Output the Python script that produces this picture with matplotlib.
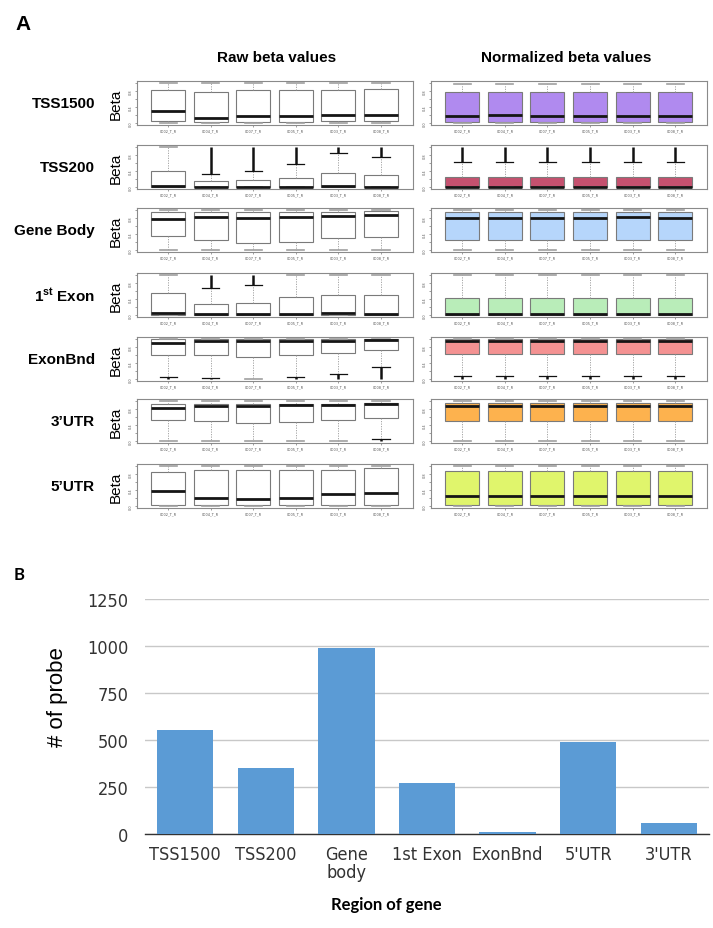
import numpy as np
import matplotlib
matplotlib.use("Agg")
import matplotlib.pyplot as plt

plt.rcParams['mathtext.fontset'] = 'custom'
plt.rcParams['mathtext.rm'] = 'Liberation Sans:bold'
plt.rcParams['mathtext.it'] = 'Liberation Sans:bold'

# ---- panel A data (box plot statistics) ----
regions = ["TSS1500", "TSS200", "Gene Body", "1$^{st}$ Exon", "ExonBnd", "3\u2019UTR", "5\u2019UTR"]
samples = ["0002_T_R", "0004_T_R", "0007_T_R", "0005_T_R", "0003_T_R", "0008_T_R"]
beta_min, beta_max = 0.0, 1.0

raw_q3 = [[0.81, 0.77, 0.82, 0.82, 0.81, 0.85],
          [0.41, 0.15, 0.18, 0.23, 0.36, 0.31],
          [0.93, 0.95, 0.95, 0.95, 0.95, 0.97],
          [0.56, 0.27, 0.31, 0.44, 0.50, 0.50],
          [0.98, 0.98, 0.98, 0.98, 0.98, 0.99],
          [0.92, 0.92, 0.92, 0.92, 0.92, 0.94],
          [0.84, 0.89, 0.89, 0.89, 0.89, 0.93]]
raw_med = [[0.31, 0.14, 0.17, 0.17, 0.21, 0.21],
           [0.03, 0.02, 0.02, 0.02, 0.03, 0.02],
           [0.78, 0.81, 0.80, 0.83, 0.84, 0.87],
           [0.05, 0.04, 0.04, 0.045, 0.05, 0.045],
           [0.89, 0.95, 0.95, 0.94, 0.94, 0.97],
           [0.83, 0.88, 0.87, 0.885, 0.885, 0.91],
           [0.38, 0.20, 0.18, 0.21, 0.31, 0.34]]
raw_q1 = [[0.05, 0.04, 0.04, 0.04, 0.05, 0.05],
          [0.01, 0.01, 0.01, 0.01, 0.01, 0.01],
          [0.35, 0.26, 0.18, 0.21, 0.31, 0.34],
          [0.01, 0.01, 0.01, 0.01, 0.01, 0.01],
          [0.60, 0.60, 0.55, 0.60, 0.65, 0.71],
          [0.52, 0.49, 0.44, 0.48, 0.52, 0.58],
          [0.03, 0.03, 0.03, 0.03, 0.03, 0.03]]
raw_hi = [[0.99, 0.99, 0.99, 0.99, 0.99, 0.99],
          [1.00, 0.34, 0.39, 0.58, 0.85, 0.75],
          [1.00, 1.00, 1.00, 1.00, 1.00, 1.00],
          [1.00, 0.68, 0.75, 1.00, 1.00, 1.00],
          [1.00, 1.00, 1.00, 1.00, 1.00, 1.00],
          [0.99, 0.99, 0.99, 0.99, 0.99, 0.99],
          [0.99, 0.99, 0.99, 0.99, 0.99, 0.99]]
raw_lo = [[0.00, 0.00, 0.00, 0.00, 0.00, 0.00],
          [0.00, 0.00, 0.00, 0.00, 0.00, 0.00],
          [0.00, 0.00, 0.00, 0.00, 0.00, 0.00],
          [0.00, 0.00, 0.00, 0.00, 0.00, 0.00],
          [0.07, 0.03, 0.00, 0.07, 0.13, 0.30],
          [0.00, 0.00, 0.00, 0.00, 0.00, 0.05],
          [0.00, 0.00, 0.00, 0.00, 0.00, 0.00]]

norm_q3 = [[0.78] * 6, [0.25] * 6, [0.95] * 6, [0.42] * 6, [0.99] * 6, [0.93] * 6, [0.88] * 6]
norm_med = [[0.18, 0.20, 0.18, 0.18, 0.18, 0.18],
            [0.01] * 6,
            [0.80, 0.80, 0.80, 0.80, 0.81, 0.80],
            [0.04] * 6,
            [0.94, 0.95, 0.93, 0.95, 0.94, 0.94],
            [0.87] * 6,
            [0.26, 0.26, 0.245, 0.26, 0.26, 0.25]]
norm_q1 = [[0.03] * 6, [0.005] * 6, [0.26] * 6, [0.005] * 6, [0.62] * 6, [0.49] * 6, [0.03] * 6]
norm_hi = [[0.97] * 6, [0.63] * 6, [1.0] * 6, [0.99] * 6, [1.0] * 6, [1.0] * 6, [0.99] * 6]
norm_lo = [[0.0] * 6, [0.0] * 6, [0.0] * 6, [0.0] * 6, [0.09] * 6, [0.0] * 6, [0.0] * 6]
norm_colors = ["#B08AEF", "#C5516F", "#B6D6FB", "#B9EDB9", "#F49292", "#FDB24E", "#E0F56C"]

# ---- panel B data ----
bar_cats = ["TSS1500", "TSS200", "Gene\nbody", "1st Exon", "ExonBnd", "5'UTR", "3'UTR"]
bar_vals = [553, 351, 992, 272, 8, 489, 60]

W, H = 713, 929
fig = plt.figure(figsize=(W / 100, H / 100), dpi=100)

row_top = [82, 146, 209, 274, 338, 400, 465]
row_h = 44


def draw_boxes(ax, q1, med, q3, lo, hi, color):
    stats = []
    for i in range(6):
        stats.append(dict(med=med[i], q1=q1[i], q3=q3[i], whislo=lo[i], whishi=hi[i], fliers=[]))
    res = ax.bxp(stats, positions=range(1, 7), widths=0.8, capwidths=0.4,
                 patch_artist=True, showfliers=False,
                 boxprops=dict(facecolor=color, edgecolor="#7a7a7a", linewidth=0.8),
                 medianprops=dict(color="#151515", linewidth=2.0),
                 whiskerprops=dict(color="#9a9a9a", linestyle=(0, (1.5, 1.5)), linewidth=0.6),
                 capprops=dict(color="#a0a0a0", linewidth=1.2))
    # outliers packed between whisker end and data extreme
    for i in range(6):
        if hi[i] < 0.96:
            ax.vlines(i + 1, hi[i], beta_max, color="#111111", linewidth=1.8)
            res['caps'][2 * i + 1].set_color("#111111")
            res['caps'][2 * i + 1].set_linewidth(0.9)
        if lo[i] > 0.02:
            ax.vlines(i + 1, beta_min, lo[i], color="#111111", linewidth=1.8)
            res['caps'][2 * i].set_color("#111111")
            res['caps'][2 * i].set_linewidth(0.9)
    ax.set_xlim(0.26, 6.74)
    ax.set_ylim(-0.04, 1.04)
    ax.set_yticks([0, 0.2, 0.4, 0.6, 0.8, 1.0])
    ax.set_yticklabels(["0.0", "", "0.4", "", "0.8", ""], rotation=90, va="center")
    ax.set_xticks(range(1, 7))
    ax.set_xticklabels(samples)
    ax.tick_params(labelsize=2.5, length=1.2, width=0.4, pad=1.5, colors="#555555")
    for s in ax.spines.values():
        s.set_color("#8a8a8a")
        s.set_linewidth(0.8)


for r in range(7):
    b = 1 - (row_top[r] + row_h) / H
    axl = fig.add_axes([136.5 / W, b, 276 / W, row_h / H])
    draw_boxes(axl, raw_q1[r], raw_med[r], raw_q3[r], raw_lo[r], raw_hi[r], "white")
    axr = fig.add_axes([431 / W, b, 275.5 / W, row_h / H])
    draw_boxes(axr, norm_q1[r], norm_med[r], norm_q3[r], norm_lo[r], norm_hi[r], norm_colors[r])
    yc = 1 - (row_top[r] + row_h / 2) / H
    fig.text(95 / W, yc, regions[r], ha="right", va="center", fontsize=11,
             fontweight="bold", family="Liberation Sans")
    fig.text(116 / W, yc, "Beta", ha="center", va="center", rotation=90, fontsize=11,
             family="Liberation Sans")

fig.text(277 / W, 1 - 58 / H, "Raw beta values", ha="center", va="center",
         fontsize=11, fontweight="bold", family="Liberation Sans")
fig.text(566 / W, 1 - 58 / H, "Normalized beta values", ha="center", va="center",
         fontsize=11, fontweight="bold", family="Liberation Sans")
fig.text(15 / W, 1 - 25 / H, "A", ha="left", va="center", fontsize=15,
         fontweight="bold", family="Liberation Sans")

# ---- panel B ----
axb = fig.add_axes([145 / W, 1 - 835 / H, 564 / W, 235 / H])
x = np.arange(len(bar_cats))
axb.bar(x, bar_vals, width=0.7, color="#5B9BD5", zorder=3)
axb.set_xlim(-0.5, len(bar_cats) - 0.5)
axb.set_ylim(0, 1250)
axb.set_yticks([0, 250, 500, 750, 1000, 1250])
axb.yaxis.grid(True, color="#c8c8c8", linewidth=1)
axb.set_axisbelow(True)
for s in ["top", "right", "left"]:
    axb.spines[s].set_visible(False)
axb.spines["bottom"].set_color("#333333")
axb.spines["bottom"].set_linewidth(1.0)
axb.spines["bottom"].set_zorder(2)
axb.set_xticks(x)
axb.set_xticklabels(bar_cats, linespacing=1.0)
axb.tick_params(axis="both", length=0, labelsize=13, colors="#333333")
axb.tick_params(axis="y", pad=12)
axb.tick_params(axis="x", pad=8)
for lab in axb.get_xticklabels() + axb.get_yticklabels():
    lab.set_family("DejaVu Sans")
    lab.set_stretch("condensed")
    lab.set_weight("light")
fig.text(58 / W, 1 - 697 / H, "# of probe", rotation=90, ha="center", va="center",
         fontsize=16, family="Liberation Sans")
fig.text(386 / W, 1 - 905 / H, "Region of gene", ha="center", va="center",
         fontsize=12, fontweight="bold", family="Lato")
fig.text(14 / W, 1 - 575 / H, "B", ha="left", va="center", fontsize=12,
         fontweight="bold", family="Lato")

fig.savefig("out.png", dpi=100)
